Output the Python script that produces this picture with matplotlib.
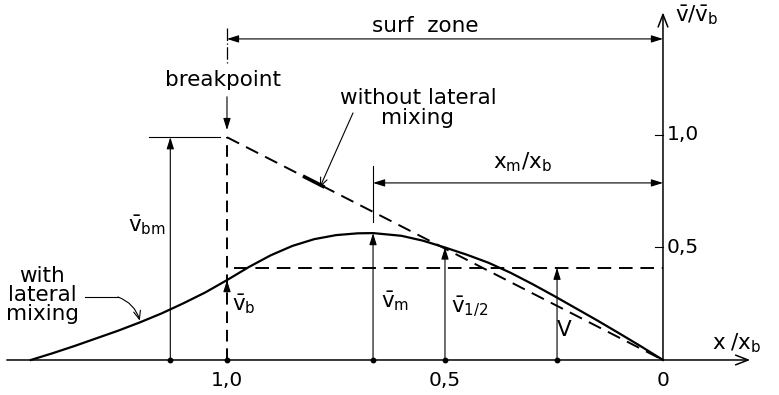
import numpy as np
import matplotlib.pyplot as plt

plt.rcParams['font.family'] = ['DejaVu Sans']
plt.rcParams['mathtext.default'] = 'regular'

# longshore current across the surf zone, x/x_b (1 = breakpoint, 0 = shoreline)
x_mix = [1.45, 1.40, 1.35, 1.30, 1.25, 1.20, 1.15, 1.10, 1.05, 1.00, 0.95, 0.90,
         0.85, 0.80, 0.75, 0.70, 0.665, 0.60, 0.55, 0.50, 0.45, 0.40, 0.35, 0.30,
         0.25, 0.20, 0.15, 0.10, 0.05, 0.0]
v_mix = [0.0, 0.03, 0.062, 0.096, 0.13, 0.167, 0.207, 0.252, 0.30, 0.355, 0.413, 0.465,
         0.507, 0.537, 0.555, 0.563, 0.564, 0.552, 0.53, 0.50, 0.468, 0.432, 0.388, 0.338,
         0.285, 0.23, 0.175, 0.118, 0.06, 0.0]

# linear profile without lateral mixing
x_lin = [1.0, 0.0]
v_lin = [0.99, 0.0]

# mean velocity V over the surf zone
v_mean = 0.41

# marked ordinates and their labels
mark_x = [1.13, 1.0, 0.665, 0.5, 0.243]
mark_v = [0.99, 0.355, 0.564, 0.50, 0.41]
mark_lbl = [r'$\bar{v}_{bm}$', r'$\bar{v}_b$', r'$\bar{v}_m$',
            r'$\bar{v}_{1/2}$', r'$V$']
lbl_pos = [(1.183, 0.60), (0.962, 0.25), (0.615, 0.26), (0.443, 0.235), (0.227, 0.133)]

x_ticks = [1.0, 0.5, 0.0]
x_tick_lbl = ['1,0', '0,5', '0']
y_ticks = [1.0, 0.5]
y_tick_lbl = ['1,0', '0,5']

fs = 15.5
fig = plt.figure(figsize=(7.79, 3.95), dpi=100)
ax = fig.add_axes([0, 0, 1, 1])
ax.set_xlim(1.5206, -0.2661)
ax.set_ylim(-0.1556, 1.6)
ax.axis('off')

thin = dict(color='black', lw=0.8)
head = dict(arrowstyle='-|>,head_length=0.7,head_width=0.22', color='black',
            lw=0.8, shrinkA=0, shrinkB=0, mutation_scale=10)
leader = dict(arrowstyle='->,head_length=0.6,head_width=0.25', color='black',
              lw=0.8, shrinkA=0, shrinkB=0, mutation_scale=10)
axis_arrow = dict(arrowstyle='->,head_length=0.9,head_width=0.35',
                  color='black', lw=1.1, shrinkA=0, shrinkB=0, mutation_scale=10)
dash = (7, 4)

# axes with open arrow heads
ax.annotate('', xy=(-0.2, 0), xytext=(1.505, 0), arrowprops=axis_arrow)
ax.annotate('', xy=(0, 1.545), xytext=(0, 0), arrowprops=axis_arrow)
ax.text(-0.17, 0.075, r'$x\;/x_b$', fontsize=fs, ha='center', va='center')
ax.text(-0.078, 1.535, r'$\bar{v}/\bar{v}_b$', fontsize=fs, ha='center', va='center')

for xt, lt in zip(x_ticks, x_tick_lbl):
    ax.text(xt, -0.09, lt, fontsize=14.5, ha='center', va='center')
for yt, lt in zip(y_ticks, y_tick_lbl):
    ax.plot([0.018, 0], [yt, yt], **thin)
    ax.text(-0.008, yt, lt, fontsize=14.5, ha='left', va='center')

# profiles
ax.plot(x_mix, v_mix, color='black', lw=1.6, solid_joinstyle='round')
ax.plot(x_lin, v_lin, color='black', lw=1.4, dashes=dash)
ax.plot([0.985, 0], [v_mean, v_mean], color='black', lw=1.4, dashes=dash)

# breakpoint line
ax.plot([1.0, 1.0], [0, v_lin[0]], color='black', lw=1.4, dashes=(6, 3.5))
ax.plot([1.0, 1.0], [1.476, 1.31], color='black', lw=0.9, dashes=(10, 2, 1, 2))
ax.annotate('', xy=(1.0, 1.022), xytext=(1.0, 1.17), arrowprops=head)
ax.text(1.009, 1.244, 'breakpoint', fontsize=fs, ha='center', va='center')

# ordinates with arrow heads
for xm, vm in zip(mark_x, mark_v):
    if xm != 1.0:
        ax.annotate('', xy=(xm, vm), xytext=(xm, 0), arrowprops=head)
    else:
        ax.annotate('', xy=(xm, vm), xytext=(xm, vm - 0.06), arrowprops=head)
ax.plot(mark_x, np.zeros(len(mark_x)), 'o', color='black', ms=3.2)
for (lx, ly), lt in zip(lbl_pos, mark_lbl):
    ax.text(lx, ly, lt, fontsize=fs, ha='center', va='center')
ax.plot([1.18, 1.016], [mark_v[0], mark_v[0]], **thin)

# surf zone dimension
ax.annotate('', xy=(0, 1.427), xytext=(1.0, 1.427),
            arrowprops=dict(head, arrowstyle='<|-|>,head_length=0.7,head_width=0.22'))
ax.text(0.546, 1.485, 'surf  zone', fontsize=fs, ha='center', va='center')

# x_m dimension
ax.plot([mark_x[2], mark_x[2]], [0.862, 0.613], **thin)
ax.annotate('', xy=(0, 0.787), xytext=(mark_x[2], 0.787),
            arrowprops=dict(head, arrowstyle='<|-|>,head_length=0.7,head_width=0.22'))
ax.text(0.323, 0.88, r'$x_m/x_b$', fontsize=fs, ha='center', va='center')

# label for the linear profile
ax.text(0.562, 1.12, 'without lateral\nmixing', fontsize=fs, ha='center', va='center',
        linespacing=0.95)
xs = np.array([0.822, 0.780])
ax.plot(xs, np.interp(xs, x_lin[::-1], v_lin[::-1]), color='black', lw=2.6)
ax.annotate('', xy=(0.787, np.interp(0.787, x_lin[::-1], v_lin[::-1]) - 0.012),
            xytext=(0.711, 1.098), arrowprops=leader)

# label for the mixing profile
ax.text(1.424, 0.29, 'with\nlateral\nmixing', fontsize=fs, ha='center', va='center',
        linespacing=0.95)
ax.plot([1.326, 1.25], [0.28, 0.28], **thin)
ax.annotate('', xy=(x_mix[5], v_mix[5] + 0.008), xytext=(1.25, 0.28),
            arrowprops=dict(leader, connectionstyle='arc3,rad=-0.25'))

fig.savefig('out.png', dpi=100, facecolor='white')
